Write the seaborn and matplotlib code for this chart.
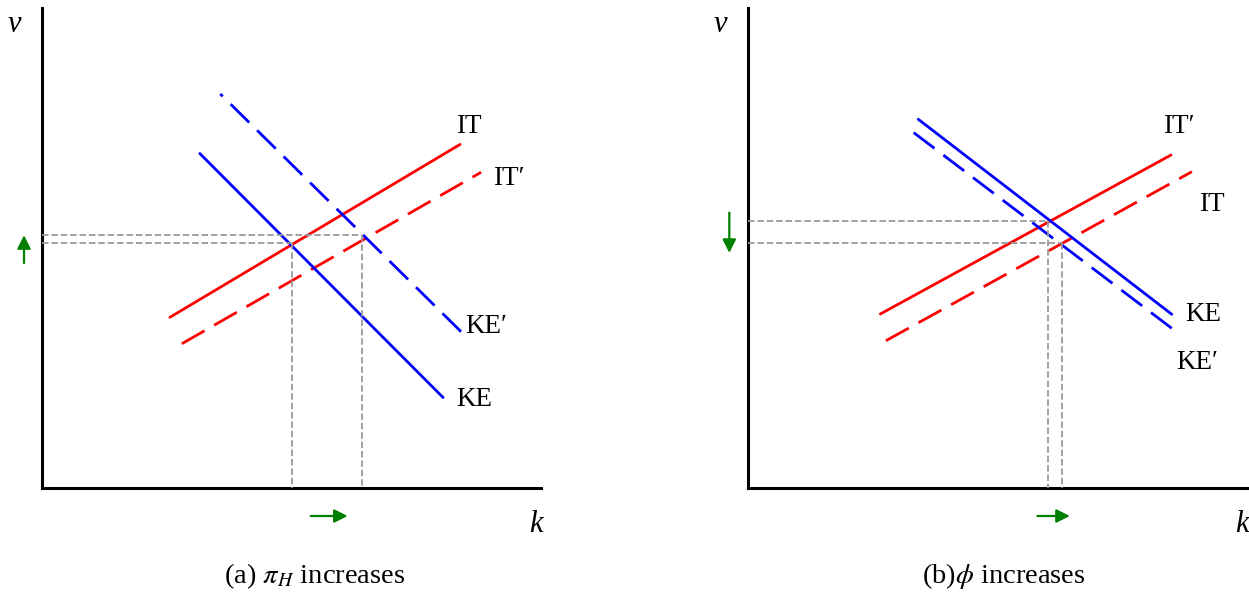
import matplotlib
matplotlib.use("Agg")
import matplotlib.pyplot as plt
import pandas as pd
import seaborn as sns

# ---- Panel (a): pi_H increases ----
a_curves = ["IT", "IT′", "KE", "KE′"]
a_k0 = [2.57, 2.81, 3.17, 8.40]
a_v0 = [3.56, 3.01, 6.97, 3.26]
a_k1 = [8.38, 8.80, 8.04, 3.58]
a_v1 = [7.16, 6.58, 1.89, 8.21]
a_dashed = [False, True, False, True]
a_label_k = [8.30, 9.04, 8.31, 8.49]
a_label_v = [7.40, 6.31, 1.71, 3.23]
a_eq_k = [5.01, 6.42]
a_eq_v = [5.10, 5.27]

# ---- Panel (b): phi increases ----
b_curves = ["IT′", "IT", "KE", "KE′"]
b_k0 = [2.655, 2.767, 3.415, 8.490]
b_v0 = [3.629, 3.073, 7.683, 3.331]
b_k1 = [8.474, 8.893, 8.490, 3.183]
b_v1 = [6.939, 6.592, 3.623, 7.516]
b_dashed = [False, True, False, True]
b_label_k = [8.31, 9.03, 8.77, 8.58]
b_label_v = [7.40, 5.77, 3.48, 2.48]
b_eq_k = [6.02, 6.30]
b_eq_v = [5.57, 5.10]

captions = ["(a) $\\pi_H$ increases", "(b)$\\phi$ increases"]

sns.set_theme(style="white")
plt.rcParams["font.family"] = ["Liberation Serif", "DejaVu Serif"]
plt.rcParams["mathtext.fontset"] = "stix"
plt.rcParams["text.color"] = "black"

W, H = 1249, 595
fig = plt.figure(figsize=(W / 100, H / 100), dpi=100)

PX_K = 49.95   # pixels per k unit
PX_V = 48.03   # pixels per v unit


def make_axes(left, bottom, width, height):
    ax = fig.add_axes([left / W, (H - bottom) / H, width / W, height / H])
    ax.set_xlim(0, width / PX_K)
    ax.set_ylim(0, height / PX_V)
    return ax


def draw_panel(ax, curves, k0, v0, k1, v1, dashed, lab_k, lab_v,
               eq_k, eq_v, colors, arrow_v, arrow_k, caption, cap_k):
    rows = []
    for name, ka, va, kb, vb in zip(curves, k0, v0, k1, v1):
        rows.append({"k": ka, "v": va, "curve": name})
        rows.append({"k": kb, "v": vb, "curve": name})
    df = pd.DataFrame(rows)
    palette = dict(zip(curves, colors))
    dash_map = {c: ((9.4, 4.0) if d else "") for c, d in zip(curves, dashed)}
    sns.lineplot(data=df, x="k", y="v", hue="curve", style="curve",
                 palette=palette, dashes=dash_map, hue_order=curves,
                 style_order=curves, estimator=None, sort=False,
                 linewidth=2.0, legend=False, ax=ax)

    # equilibrium guides
    for ke, ve in zip(eq_k, eq_v):
        ax.plot([0, ke], [ve, ve], color="#9a9a9a", lw=1.3,
                linestyle=(0, (3.6, 1.6)), zorder=3, clip_on=False)
        ax.plot([ke, ke], [ve, 0], color="#9a9a9a", lw=1.3,
                linestyle=(0, (3.6, 1.6)), zorder=3, clip_on=False)

    for name, lk, lv in zip(curves, lab_k, lab_v):
        ax.text(lk, lv, name, fontsize=19.5, ha="left", va="baseline",
                color="black")

    ax.set_xlabel("")
    ax.set_ylabel("")
    ax.set_xticks([])
    ax.set_yticks([])
    for side in ("top", "right"):
        ax.spines[side].set_visible(False)
    for side in ("left", "bottom"):
        ax.spines[side].set_color("black")
        ax.spines[side].set_linewidth(2.2)
        ax.spines[side].set_zorder(2.5)

    ax.text(-0.55, 9.50, "v", fontsize=22, fontstyle="italic", ha="center",
            va="baseline", color="black")
    ax.text(9.90, -0.91, "k", fontsize=22, fontstyle="italic", ha="center",
            va="baseline", color="black")

    arrow = dict(arrowstyle="-|>", color="green", lw=1.6,
                 mutation_scale=20, shrinkA=0, shrinkB=0)
    ax.annotate("", xy=arrow_v[1], xytext=arrow_v[0], arrowprops=arrow,
                annotation_clip=False)
    ax.annotate("", xy=arrow_k[1], xytext=arrow_k[0], arrowprops=arrow,
                annotation_clip=False)

    ax.text(cap_k, -1.98, caption, fontsize=20.5, ha="center",
            va="baseline", color="black")


ax_a = make_axes(41.5, 488.3, 499.5, 480.3)
draw_panel(ax_a, a_curves, a_k0, a_v0, a_k1, a_v1, a_dashed,
           a_label_k, a_label_v, a_eq_k, a_eq_v,
           ["red", "red", "blue", "blue"],
           ((-0.35, 4.69), (-0.35, 5.27)),
           ((5.39, -0.577), (6.13, -0.577)),
           captions[0], 5.47)

ax_b = make_axes(747.7, 488.3, 501.3, 480.3)
draw_panel(ax_b, b_curves, b_k0, b_v0, b_k1, b_v1, b_dashed,
           b_label_k, b_label_v, b_eq_k, b_eq_v,
           ["red", "red", "blue", "blue"],
           ((-0.368, 5.74), (-0.368, 4.90)),
           ((5.80, -0.577), (6.45, -0.577)),
           captions[1], 5.13)

fig.savefig("out.png", dpi=100, facecolor="white")
